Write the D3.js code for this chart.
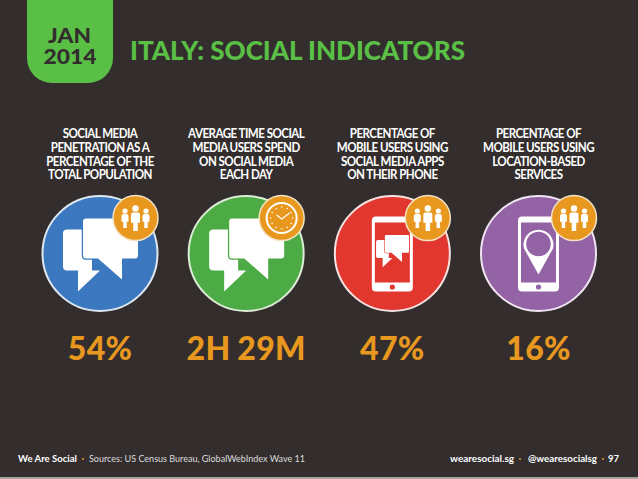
<!DOCTYPE html>
<html>
<head>
<meta charset="utf-8">
<script src="https://cdn.jsdelivr.net/npm/d3@7"></script>
<style>
html, body { margin: 0; padding: 0; background: #332e2d; }
svg { display: block; }
text { font-family: Lato, sans-serif; }
</style>
</head>
<body>
<div id="chart"></div>
<script>
// slide data
var categories = ["penetration", "time", "mobile", "location"];
var headings = [
    ["SOCIAL MEDIA", "PENETRATION AS A", "PERCENTAGE OF THE", "TOTAL POPULATION"],
    ["AVERAGE TIME SOCIAL", "MEDIA USERS SPEND", "ON SOCIAL MEDIA", "EACH DAY"],
    ["PERCENTAGE OF", "MOBILE USERS USING", "SOCIAL MEDIA APPS", "ON THEIR PHONE"],
    ["PERCENTAGE OF", "MOBILE USERS USING", "LOCATION-BASED", "SERVICES"]
];
var valueLabels = ["54%", "2H 29M", "47%", "16%"];
var circleFills = ["#3b78bf", "#4cab45", "#e1372f", "#9463a6"];
var circleRims = ["#dfe8f2", "#dcecd6", "#f6e3e1", "#efe5f0"];
var mainIcons = ["chat", "chat", "phoneChat", "phonePin"];
var badgeIcons = ["people", "clock", "people", "people"];

var width = 638, height = 479;
var orange = "#e8981f", green = "#5abf45", bg = "#332e2d";

var svg = d3.select("#chart").append("svg")
    .attr("width", width)
    .attr("height", height);

svg.append("rect").attr("width", width).attr("height", height).attr("fill", bg);
svg.append("rect").attr("y", 477).attr("width", width).attr("height", 2).attr("fill", "#a8a49e");

// date tab
svg.append("path")
    .attr("d", "M27,0H113V58A25,25 0 0 1 88,83H52A25,25 0 0 1 27,58Z")
    .attr("fill", green);
svg.append("text").text("JAN")
    .attr("x", 69.5).attr("y", 43).attr("text-anchor", "middle")
    .attr("font-size", 20).attr("font-weight", 900).attr("fill", bg)
    .attr("textLength", 43).attr("lengthAdjust", "spacingAndGlyphs");
svg.append("text").text("2014")
    .attr("x", 70).attr("y", 64).attr("text-anchor", "middle")
    .attr("font-size", 20).attr("font-weight", 900).attr("fill", bg)
    .attr("textLength", 53).attr("lengthAdjust", "spacingAndGlyphs");

svg.append("text").text("ITALY: SOCIAL INDICATORS")
    .attr("x", 130).attr("y", 60)
    .attr("font-size", 26.5).attr("font-weight", 900).attr("fill", green)
    .attr("textLength", 335).attr("lengthAdjust", "spacingAndGlyphs");

var x = d3.scalePoint().domain(categories).range([100, 538.5]);

var cols = svg.selectAll("g.col")
    .data(categories)
    .join("g")
    .attr("class", "col")
    .attr("transform", function(d){ return "translate(" + x(d) + ",0)"; });

// headings, squeezed sideways because the slide uses a narrower face
cols.each(function(d, i){
    var g = d3.select(this);
    g.selectAll("text.head")
        .data(headings[i])
        .join("text")
        .attr("class", "head")
        .attr("text-anchor", "middle")
        .attr("transform", function(t, j){ return "translate(0," + (138 + j * 13.8) + ") scale(.89,1)"; })
        .attr("font-size", 13)
        .attr("font-weight", 700)
        .attr("letter-spacing", -0.6)
        .attr("fill", "#fff")
        .text(function(t){ return t; });
});

// big discs
var discs = cols.append("g").attr("transform", "translate(0,253.5)");
discs.append("circle")
    .attr("r", 57.5)
    .attr("fill", function(d, i){ return circleFills[i]; })
    .attr("stroke", function(d, i){ return circleRims[i]; })
    .attr("stroke-width", 2);

function drawChat(g, fill){
    g.append("path")
        .attr("d", "M-33,-24H-8V17H0L-22,38V17H-33Q-37,17 -37,13V-20Q-37,-24 -33,-24Z")
        .attr("fill", "#fff");
    g.append("path")
        .attr("d", "M-14,-35H35Q38,-35 38,-32V2Q38,5 35,5H22V26L-2,5H-14Q-17,5 -17,2V-32Q-17,-35 -14,-35Z")
        .attr("fill", "#fff")
        .attr("stroke", fill)
        .attr("stroke-width", 2.5)
        .attr("paint-order", "stroke");
}

function drawPhone(g, fill){
    g.append("rect").attr("x", -20.5).attr("y", -37).attr("width", 41).attr("height", 75).attr("rx", 4).attr("fill", "#fff");
    g.append("rect").attr("x", -17.5).attr("y", -31).attr("width", 35).attr("height", 60).attr("fill", fill);
    g.append("circle").attr("cy", 33.5).attr("r", 2.6).attr("fill", fill);
}

discs.each(function(d, i){
    var g = d3.select(this), fill = circleFills[i], icon = mainIcons[i];
    if(icon == "chat"){
        drawChat(g, fill);
    } else {
        drawPhone(g, fill);
    }
    if(icon == "phoneChat"){
        var small = g.append("g").attr("transform", "translate(0,-3) scale(.44)");
        drawChat(small, fill);
    }
    if(icon == "phonePin"){
        g.append("path")
            .attr("d", "M-14.5,-5A15,15 0 1 1 14.5,-5L0,21Z")
            .attr("fill", "#fff");
        g.append("circle").attr("cy", -9.5).attr("r", 12.3).attr("fill", fill);
    }
});

// orange badges
var badges = cols.append("g").attr("transform", "translate(35.5,218)");
badges.append("circle")
    .attr("r", 22.5)
    .attr("fill", orange)
    .attr("stroke", "#f4e3c6")
    .attr("stroke-width", 1.5);

function drawPerson(g, cx, headY, headR, top, bottom, w){
    g.append("circle").attr("cx", cx).attr("cy", headY).attr("r", headR).attr("fill", "#fff");
    g.append("path")
        .attr("d", "M" + (cx - w / 2) + "," + (top + 2)
            + "Q" + (cx - w / 2) + "," + top + " " + (cx - w / 2 + 2) + "," + top
            + "H" + (cx + w / 2 - 2)
            + "Q" + (cx + w / 2) + "," + top + " " + (cx + w / 2) + "," + (top + 2)
            + "V" + (top + (bottom - top) * 0.55)
            + "H" + (cx + w / 4) + "V" + bottom
            + "H" + (cx - w / 4) + "V" + (top + (bottom - top) * 0.55)
            + "H" + (cx - w / 2) + "Z")
        .attr("fill", "#fff");
}

function drawClock(g){
    g.append("circle").attr("r", 15).attr("fill", "none").attr("stroke", "#fff").attr("stroke-width", 2);
    d3.range(12).forEach(function(h){
        var a = h * Math.PI / 6;
        g.append("circle")
            .attr("cx", 11 * Math.cos(a)).attr("cy", 11 * Math.sin(a))
            .attr("r", 0.8).attr("fill", "#fff");
    });
    g.append("path").attr("d", "M-5,-3L0,1L8,-5").attr("fill", "none").attr("stroke", "#fff").attr("stroke-width", 1.1);
}

badges.each(function(d, i){
    var g = d3.select(this);
    if(badgeIcons[i] == "clock"){
        drawClock(g);
    } else {
        drawPerson(g, -10.5, -7, 2.6, -4, 10, 7);
        drawPerson(g, 10.5, -7, 2.6, -4, 10, 7);
        drawPerson(g, 0, -9.5, 3.2, -5.5, 13, 9);
    }
});

// big numbers
cols.append("text")
    .attr("y", 360)
    .attr("text-anchor", "middle")
    .attr("font-size", 32)
    .attr("font-weight", 900)
    .attr("letter-spacing", 0.3)
    .attr("word-spacing", -1)
    .attr("fill", orange)
    .text(function(d, i){ return valueLabels[i]; });

// footer
function foot(str, xpos, len, weight, color){
    svg.append("text").text(str)
        .attr("x", xpos).attr("y", 462)
        .attr("font-size", 10)
        .attr("font-weight", weight)
        .attr("fill", color)
        .attr("textLength", len)
        .attr("lengthAdjust", "spacingAndGlyphs");
}
foot("We Are Social", 18, 59, 700, "#fff");
foot("Sources: US Census Bureau, GlobalWebIndex Wave 11", 89, 216, 400, "#ddd");
foot("wearesocial.sg", 450, 64, 700, "#fff");
foot("@wearesocialsg", 528, 69, 700, "#fff");
foot("97", 608, 11, 700, "#fff");
[83, 520, 603].forEach(function(cx){
    svg.append("circle").attr("cx", cx).attr("cy", 459).attr("r", 1).attr("fill", orange);
});
</script>
</body>
</html>
